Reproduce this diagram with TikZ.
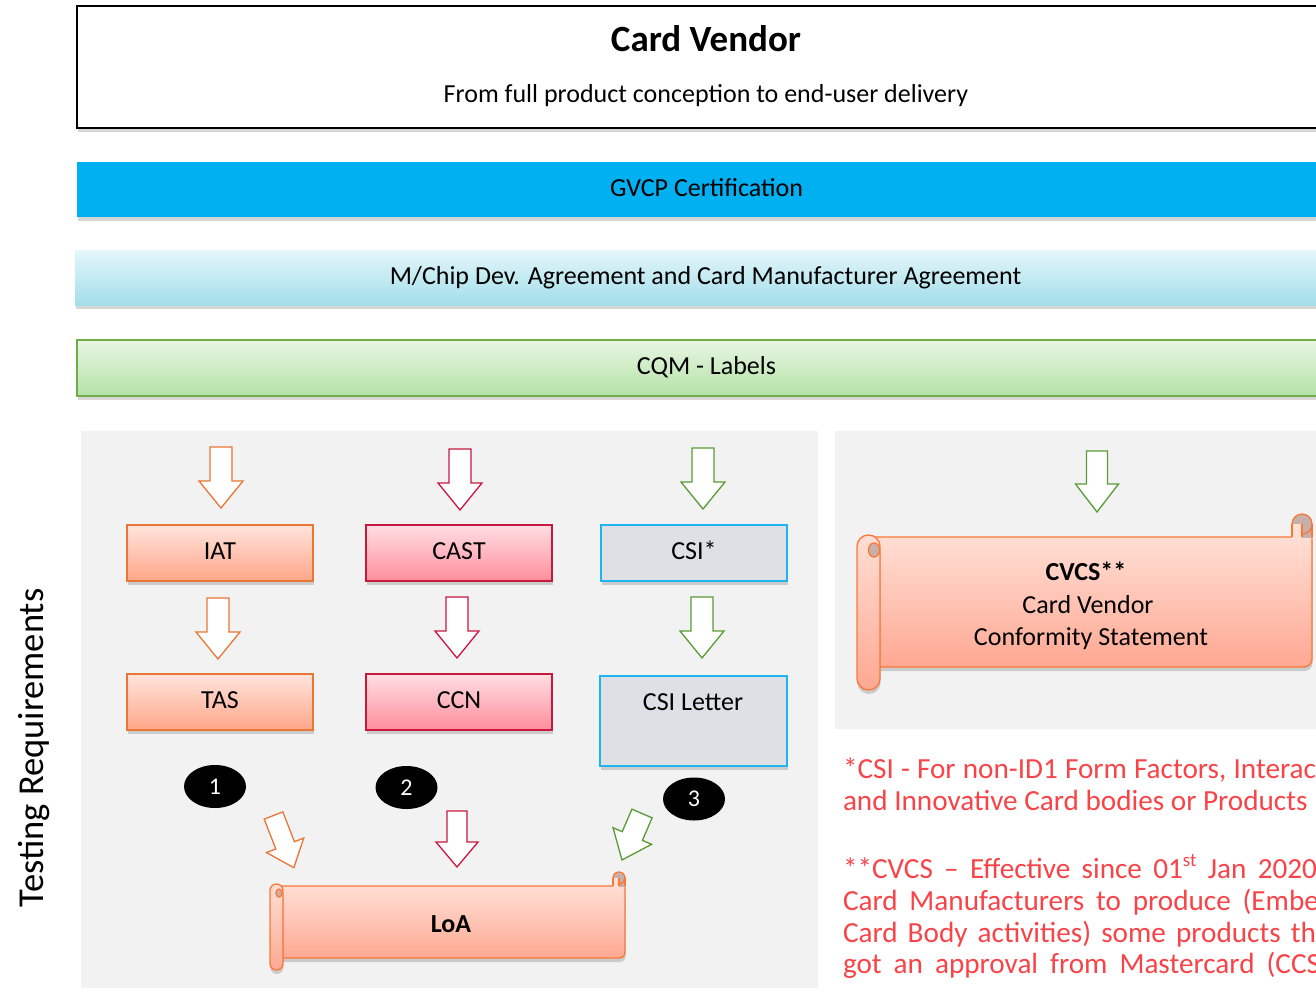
\documentclass[tikz,border=0pt]{standalone}
\usepackage{fontspec}
\setmainfont{Carlito}
\usetikzlibrary{shadows,shapes.geometric}

\definecolor{gvcp}{RGB}{0,176,240}
\definecolor{mchiptop}{RGB}{228,246,250}
\definecolor{mchipbot}{RGB}{162,222,234}
\definecolor{cqmtop}{RGB}{232,246,228}
\definecolor{cqmbot}{RGB}{180,226,166}
\definecolor{cqmline}{RGB}{112,173,71}
\definecolor{panel}{RGB}{242,242,242}
\definecolor{orangeline}{RGB}{232,118,52}
\definecolor{orangetop}{RGB}{255,228,220}
\definecolor{orangebot}{RGB}{255,166,136}
\definecolor{redline}{RGB}{200,24,62}
\definecolor{redtop}{RGB}{255,222,226}
\definecolor{redbot}{RGB}{255,142,156}
\definecolor{csiline}{RGB}{30,180,240}
\definecolor{csifill}{RGB}{222,224,229}
\definecolor{greenline}{RGB}{88,155,52}
\definecolor{scrollline}{RGB}{250,120,55}
\definecolor{scrolltop}{RGB}{255,222,212}
\definecolor{scrollbot}{RGB}{255,168,146}
\definecolor{curlgray}{RGB}{200,176,170}
\definecolor{notered}{RGB}{248,68,72}

\newcommand\blockarrow[8]{%
  \begin{scope}[shift={(#2,#3)}, rotate=#4]
    \draw[barrow, draw=#1] (-#7,0) -- (#7,0) -- (#7,#6) -- (#8,#6) -- (0,#5) -- (-#8,#6) -- (-#7,#6) -- cycle;
  \end{scope}}

\begin{document}
\begin{tikzpicture}[x=1pt, y=-1pt,
  every node/.style={inner sep=0pt, outer sep=0pt, font=\fontsize{26}{31}\selectfont},
  shadowed/.style={drop shadow={shadow xshift=0.5pt, shadow yshift=-4pt, opacity=0.16, fill=black}},
  bar/.style={rectangle, shadowed, text height=18pt, text depth=5pt},
  box/.style={rectangle, minimum width=186pt, minimum height=56pt, line width=1.3pt, shadowed, text height=18pt, text depth=5pt},
  orangebox/.style={box, draw=orangeline, top color=orangetop, bottom color=orangebot},
  redbox/.style={box, draw=redline, top color=redtop, bottom color=redbot},
  csibox/.style={box, draw=csiline, fill=csifill},
  barrow/.style={line width=1.3pt, fill=white, line join=miter},
  numdot/.style={ellipse, fill=black, minimum width=62pt, minimum height=43pt, text=white, font=\fontsize{24}{28}\selectfont},
  scrollbody/.style={draw=scrollline, line width=1.3pt, top color=scrolltop, bottom color=scrollbot, shadowed},
  curl/.style={draw=scrollline, line width=1.3pt, fill=curlgray},
  scrollstroke/.style={draw=scrollline, line width=1.3pt},
  notetext/.style={anchor=base west, text=notered, font=\fontsize{29.2}{31.7}\selectfont}
]
\useasboundingbox (0,0) rectangle (1316,990);
\clip (0,0) rectangle (1316,990);
\fill[white] (0,0) rectangle (1316,990);

% header box
\node[rectangle, draw=black, line width=2pt, fill=white, shadowed, minimum width=1263pt, minimum height=122pt, anchor=north west] (vendor) at (77,6) {};
\node[anchor=base, font=\bfseries\fontsize{37}{44}\selectfont] (title) at (706,52) {Card Vendor};
\node[anchor=base] (subtitle) at (706,102) {From full product conception to end-user delivery};

% bars
\node[bar, fill=gvcp, minimum width=1259pt, minimum height=55pt, anchor=north west] (gvcpbar) at (77,162) {GVCP Certification};
\node[bar, top color=mchiptop, bottom color=mchipbot, minimum width=1261pt, minimum height=55pt, anchor=north west] (mchipbar) at (75,250) {M/Chip Dev. Agreement and Card Manufacturer Agreement};
\node[bar, draw=cqmline, line width=1.3pt, top color=cqmtop, bottom color=cqmbot, minimum width=1259pt, minimum height=56pt, anchor=north west] (cqmbar) at (77,340) {CQM - Labels};

% panels
\fill[panel] (81,431) rectangle (818,988);
\fill[panel] (835,431) rectangle (1340,729);

% rotated label
\node[rotate=90, anchor=base, font=\fontsize{36.5}{40}\selectfont] (testreq) at (43,748) {Testing Requirements};

% boxes
\node[orangebox] (iat) at (220,553) {IAT};
\node[redbox] (cast) at (459,553) {CAST};
\node[csibox] (csi) at (694,553) {CSI*};
\node[orangebox] (tas) at (220,702) {TAS};
\node[redbox] (ccn) at (459,702) {CCN};
\node[csibox, minimum width=187pt, minimum height=90pt, text height=0pt, text depth=0pt] (csil) at (693.5,721) {};
\node[anchor=base] (csiltext) at (693,710) {CSI Letter};

% block arrows
\blockarrow{orangeline}{221}{447}{0}{61}{34}{11}{22}
\blockarrow{redline}{460}{449}{0}{61}{34}{11}{22}
\blockarrow{greenline}{703}{448}{0}{61}{34}{11}{22}
\blockarrow{orangeline}{218}{598}{0}{61}{34}{11}{22}
\blockarrow{redline}{457}{597}{0}{61}{34}{11}{22}
\blockarrow{greenline}{702}{597}{0}{61}{34}{11}{22}
\blockarrow{greenline}{1097}{451}{0}{61}{33}{10.5}{21.5}
\blockarrow{redline}{457}{811}{0}{56}{31}{10}{21}
\blockarrow{orangeline}{273.5}{815.5}{21.3}{56}{32}{10}{20}
\blockarrow{greenline}{642}{813.5}{-23.3}{50.6}{24.5}{11}{21}

% number dots
\node[numdot] (n1) at (215,786.5) {1};
\node[numdot] (n2) at (406.5,787.5) {2};
\node[numdot] (n3) at (694,799) {3};

% LoA scroll
\draw[scrollbody] (277,886) -- (625,886) -- (625,953) arc[start angle=0, end angle=90, radius=5] -- (277,958) -- cycle;
\fill[curlgray] (619,878) rectangle (625,886.5);
\filldraw[curl] (619,878) circle[radius=6];
\fill[scrolltop] (613,878) rectangle (619,886.8);
\draw[scrollstroke] (613,878) -- (613,886) (619,878) -- (619,886) (625,878) -- (625,886);
\draw[scrollbody, rounded corners=6.4pt] (270,884) rectangle (283,970);
\filldraw[curl] (279,893) ellipse[x radius=3, y radius=4];
\node[anchor=base, font=\bfseries\fontsize{26}{31}\selectfont] (loa) at (451,932) {LoA};

% CVCS scroll
\draw[scrollbody] (868,537) -- (1312,537) -- (1312,659) arc[start angle=0, end angle=90, radius=8] -- (868,667) -- cycle;
\fill[curlgray] (1302,524) rectangle (1312,537.5);
\filldraw[curl] (1302,524) circle[radius=10];
\fill[scrolltop] (1292,524) rectangle (1302,537.8);
\draw[scrollstroke] (1292,524) -- (1292,537) (1302,524) -- (1302,537) (1312,524) -- (1312,537);
\draw[scrollbody, rounded corners=11.4pt] (857,535) rectangle (880,690);
\filldraw[curl] (874,550) ellipse[x radius=5.5, y radius=7];
\node[anchor=base, font=\bfseries\fontsize{26}{31}\selectfont] (cvcs1) at (1086,580) {CVCS**};
\node[anchor=base] (cvcs2) at (1088,613) {Card Vendor};
\node[anchor=base] (cvcs3) at (1091,645) {Conformity Statement};

% notes
\node[notetext] (r1) at (843,778) {\makebox[473pt][s]{*CSI - For non-ID1 Form Factors, Interac}};
\node[notetext] (r2) at (843,810) {and Innovative Card bodies or Products};
\node[notetext] (r3) at (843,878) {\makebox[474pt][s]{**CVCS – Effective since 01\raisebox{0.38em}{\fontsize{19}{19}\selectfont st} Jan 2020}};
\node[notetext] (r4) at (843,910) {\makebox[476pt][s]{Card Manufacturers to produce (Embe}};
\node[notetext] (r5) at (843,942) {\makebox[473pt][s]{Card Body activities) some products th}};
\node[notetext] (r6) at (843,973) {\makebox[477pt][s]{got an approval from Mastercard (CCS}};
\end{tikzpicture}
\end{document}
